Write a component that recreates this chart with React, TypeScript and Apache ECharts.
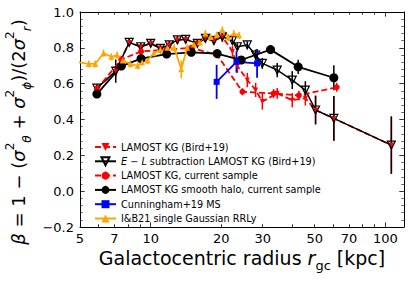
import React, { useEffect, useRef } from "react";
import * as echarts from "echarts";

// ---------- axis ticks ----------
const xMinorTicks = [5, 6, 7, 8, 9, 20, 30, 40, 50, 60, 70, 80, 90];
const xMajorTicks = [10, 100];
const xTickLabels = [5, 7, 10, 20, 30, 50, 70, 100];

// ---------- data ----------
// LAMOST KG (Bird+19)
const birdR = [5.9, 7.1, 8.1, 9.07, 10, 11, 12, 13, 14.1, 15.8, 17.1, 18.6, 20.2, 22.3, 23.4, 25.8, 28.0, 29.9, 34.6, 40.1, 45.6, 50.4, 60.3, 106];
const birdBeta = [0.575, 0.67, 0.83, 0.806, 0.825, 0.797, 0.816, 0.844, 0.847, 0.825, 0.853, 0.84, 0.862, 0.78, 0.7, 0.62, 0.565, 0.5, 0.546, 0.508, 0.518, 0.453, 0.406, 0.257];
const birdErr = [0.02, 0.03, 0.02, 0.02, 0.02, 0.02, 0.02, 0.02, 0.02, 0.02, 0.02, 0.02, 0.03, 0.03, 0.04, 0.04, 0.04, 0.045, 0.03, 0.04, 0.04, 0.08, 0.125, 0.16];

// E-L subtraction LAMOST KG (Bird+19)
const elR = [5.9, 7.1, 8.1, 9.07, 10, 11, 12, 13, 14.1, 15.8, 17.1, 18.6, 20.2, 22.3, 23.4, 25.8, 28.0, 29.9, 34.6, 40.1, 45.6, 50.4, 60.3, 106];
const elBeta = [0.575, 0.67, 0.83, 0.806, 0.825, 0.797, 0.816, 0.844, 0.847, 0.825, 0.853, 0.84, 0.862, 0.84, 0.806, 0.816, 0.76, 0.713, 0.676, 0.62, 0.564, 0.453, 0.406, 0.257];
const elErr = [0.02, 0.065, 0.02, 0.02, 0.02, 0.02, 0.02, 0.02, 0.02, 0.02, 0.02, 0.02, 0.02, 0.02, 0.02, 0.02, 0.03, 0.03, 0.04, 0.05, 0.05, 0.08, 0.125, 0.16];

// LAMOST KG, current sample
const curR = [5.9, 7.5, 9.1, 11.7, 14.9, 19.2, 24.6, 33.4, 42.8, 62.0];
const curBeta = [0.57, 0.735, 0.78, 0.79, 0.8, 0.76, 0.555, 0.545, 0.535, 0.58];
const curErr = [0.02, 0.02, 0.015, 0.015, 0.015, 0.02, 0.02, 0.025, 0.025, 0.025];

// LAMOST KG smooth halo, current sample
const halR = [5.9, 7.5, 9.1, 11.7, 14.9, 19.2, 24.3, 32.4, 42.5, 60.3];
const halBeta = [0.542, 0.698, 0.74, 0.765, 0.775, 0.768, 0.732, 0.79, 0.694, 0.633];
const halErr = [0.02, 0.02, 0.015, 0.012, 0.012, 0.015, 0.02, 0.025, 0.04, 0.07];

// Cunningham+19 MS
const cunR = [19.1, 23.2, 28.4];
const cunBeta = [0.61, 0.722, 0.713];
const cunErr = [0.095, 0.06, 0.08];

// I&B21 single Gaussian RRLy
const ibR = [4.9, 5.45, 5.8, 6.3, 6.8, 7.2, 7.6, 8.2, 8.8, 9.2, 9.7, 10.3, 11.0, 11.8, 12.6, 13.5, 14.3, 15.3, 16.2, 17.1, 18.0, 19.1, 20.2, 21.4, 22.6, 23.8];
const ibBeta = [0.72, 0.71, 0.71, 0.77, 0.75, 0.76, 0.73, 0.71, 0.7, 0.72, 0.73, 0.77, 0.79, 0.8, 0.8, 0.68, 0.8, 0.82, 0.83, 0.88, 0.86, 0.87, 0.9, 0.86, 0.88, 0.87];
const ibErr = [0.02, 0.02, 0.02, 0.02, 0.02, 0.02, 0.02, 0.02, 0.02, 0.02, 0.02, 0.02, 0.02, 0.02, 0.02, 0.05, 0.02, 0.02, 0.02, 0.02, 0.02, 0.02, 0.02, 0.02, 0.02, 0.02];

const NAMES = {
  bird: "LAMOST KG (Bird+19)",
  el: "E − L subtraction LAMOST KG (Bird+19)",
  cur: "LAMOST KG, current sample",
  hal: "LAMOST KG smooth halo, current sample",
  cun: "Cunningham+19 MS",
  ib: "I&B21 single Gaussian RRLy",
};

const FONT = "DejaVu Sans";
const RED = "#ff0000";
const BLUE = "#0000ff";
const ORANGE = "#ffa500";

function errSeries(key: string, r: number[], b: number[], e: number[], color: string, lw: number) {
  return {
    type: "custom",
    name: key + "_err",
    xAxisIndex: 0,
    yAxisIndex: 0,
    silent: true,
    clip: true,
    encode: { x: 0, y: [1, 2] },
    data: r.map((x, i) => [x, b[i] - e[i], b[i] + e[i]]),
    renderItem: (_params: any, api: any) => {
      const p1 = api.coord([api.value(0), api.value(1)]);
      const p2 = api.coord([api.value(0), api.value(2)]);
      return {
        type: "line",
        shape: { x1: p1[0], y1: p1[1], x2: p2[0], y2: p2[1] },
        style: { stroke: color, lineWidth: lw },
      };
    },
  };
}

function lineSeries(name: string, r: number[], b: number[], opts: any) {
  return {
    type: "line",
    name,
    xAxisIndex: 0,
    yAxisIndex: 0,
    data: r.map((x, i) => [x, b[i]]),
    clip: true,
    ...opts,
  };
}

const tickLine = { color: "#000", width: 0.8 };

function xAxisDef(position: string, ticks: number[], len: number, labels: boolean, line: boolean) {
  return {
    type: "log",
    logBase: 10,
    min: 5,
    max: 120,
    position,
    axisLine: { show: line, onZero: false, lineStyle: { color: "#000", width: 1 } },
    axisTick: { show: true, inside: true, length: len, lineStyle: tickLine, customValues: ticks },
    axisLabel: labels
      ? {
          show: true,
          customValues: xTickLabels,
          formatter: (v: number) => String(Math.round(v)),
          color: "#000",
          fontSize: 13,
          fontFamily: FONT,
          margin: 5,
        }
      : { show: false },
    splitLine: { show: false },
    minorTick: { show: false },
    minorSplitLine: { show: false },
  };
}

function yAxisDef(position: string, labels: boolean) {
  return {
    type: "value",
    min: -0.2,
    max: 1.0,
    interval: 0.2,
    position,
    axisLine: { show: true, onZero: false, lineStyle: { color: "#000", width: 1 } },
    axisTick: { show: true, inside: true, length: 4.7, lineStyle: tickLine },
    minorTick: { show: true, splitNumber: 5, length: 2.7, lineStyle: { color: "#000", width: 0.6 } },
    axisLabel: labels
      ? {
          show: true,
          formatter: (v: number) => (v < -1e-9 ? "−" : "") + Math.abs(v).toFixed(1),
          color: "#000",
          fontSize: 13,
          fontFamily: FONT,
          margin: 6,
        }
      : { show: false },
    splitLine: { show: false },
    minorSplitLine: { show: false },
  };
}

export default function App() {
  const ref = useRef<HTMLDivElement>(null);

  useEffect(() => {
    if (!ref.current) return;
    const chart = echarts.init(ref.current, undefined, { renderer: "svg" });

    const option: any = {
      animation: false,
      backgroundColor: "#fff",
      grid: { left: 80, right: 11, top: 12, bottom: 55 },
      xAxis: [
        xAxisDef("bottom", xMinorTicks, 2.7, true, true),
        xAxisDef("bottom", xMajorTicks, 4.7, false, false),
        xAxisDef("top", xMinorTicks, 2.7, false, true),
        xAxisDef("top", xMajorTicks, 4.7, false, false),
      ],
      yAxis: [yAxisDef("left", true), yAxisDef("right", false)],
      legend: {
        orient: "vertical",
        left: 89,
        top: 136,
        itemWidth: 21,
        itemHeight: 10,
        itemGap: 2.3,
        selectedMode: false,
        data: [NAMES.bird, NAMES.el, NAMES.cur, NAMES.hal, NAMES.cun, NAMES.ib],
        formatter: (n: string) =>
          n === NAMES.el ? "{i|E} − {i|L}{n| subtraction LAMOST KG (Bird+19)}" : n,
        textStyle: {
          color: "#000",
          fontSize: 9.7,
          fontFamily: FONT,
          lineHeight: 12,
          rich: {
            i: { fontStyle: "italic", fontSize: 9.7, fontFamily: FONT, color: "#000", lineHeight: 12 },
            n: { fontSize: 9.7, fontFamily: FONT, color: "#000", lineHeight: 12 },
          },
        },
      },
      series: [
        errSeries("bird", birdR, birdBeta, birdErr, RED, 1.5),
        lineSeries(NAMES.bird, birdR, birdBeta, {
          symbol: "triangle",
          symbolRotate: 180,
          symbolSize: 5,
          itemStyle: { color: RED },
          lineStyle: { color: RED, width: 1.8, type: [6, 3] },
        }),
        errSeries("el", elR, elBeta, elErr, "#000", 1.5),
        lineSeries(NAMES.el, elR, elBeta, {
          symbol: "triangle",
          symbolRotate: 180,
          symbolSize: 8,
          itemStyle: { color: "rgba(255,255,255,0)", borderColor: "#000", borderWidth: 1.2 },
          lineStyle: { color: "#000", width: 1.5 },
        }),
        errSeries("cur", curR, curBeta, curErr, RED, 1.5),
        lineSeries(NAMES.cur, curR, curBeta, {
          symbol: "circle",
          symbolSize: 6,
          itemStyle: { color: RED },
          lineStyle: { color: RED, width: 1.8, type: [6, 3] },
        }),
        errSeries("hal", halR, halBeta, halErr, "#000", 1.5),
        lineSeries(NAMES.hal, halR, halBeta, {
          symbol: "circle",
          symbolSize: 9,
          itemStyle: { color: "#000" },
          lineStyle: { color: "#000", width: 1.8 },
        }),
        errSeries("cun", cunR, cunBeta, cunErr, BLUE, 1.8),
        lineSeries(NAMES.cun, cunR, cunBeta, {
          symbol: "rect",
          symbolSize: 6,
          itemStyle: { color: BLUE },
          lineStyle: { color: BLUE, width: 1.8 },
        }),
        errSeries("ib", ibR, ibBeta, ibErr, ORANGE, 1.5),
        lineSeries(NAMES.ib, ibR, ibBeta, {
          symbol: "triangle",
          symbolSize: 6,
          itemStyle: { color: ORANGE },
          lineStyle: { color: ORANGE, width: 1.8 },
        }),
      ],
      graphic: [
        {
          type: "text",
          x: 18.5,
          y: 132,
          rotation: Math.PI / 2,
          style: {
            text:
              "{i|β}{n| = 1 − (}{i|σ}{sup|2}{sub|θ}{n| + }{i|σ}{sup|2}{sub|ϕ}{n|)/(2}{i|σ}{sup|2}{sub|r}{n|)}",
            align: "center",
            verticalAlign: "middle",
            fill: "#000",
            rich: {
              n: { fontSize: 18, fontFamily: FONT, lineHeight: 29, fill: "#000" },
              i: { fontSize: 18, fontFamily: FONT, fontStyle: "italic", lineHeight: 29, fill: "#000" },
              sup: { fontSize: 12, fontFamily: FONT, lineHeight: 16, verticalAlign: "top", fill: "#000" },
              sub: { fontSize: 12, fontFamily: FONT, fontStyle: "italic", lineHeight: 16, verticalAlign: "bottom", fill: "#000" },
            },
          },
        },
        {
          type: "text",
          x: 242,
          y: 258,
          style: {
            text: "{n|Galactocentric radius }{i|r}{sub|gc}{n| [kpc]}",
            align: "center",
            verticalAlign: "middle",
            fill: "#000",
            rich: {
              n: { fontSize: 19, fontFamily: FONT, lineHeight: 28, fill: "#000" },
              i: { fontSize: 19, fontFamily: FONT, fontStyle: "italic", lineHeight: 28, fill: "#000" },
              sub: { fontSize: 13, fontFamily: FONT, lineHeight: 17, verticalAlign: "bottom", fill: "#000" },
            },
          },
        },
      ],
    };

    chart.setOption(option);
    return () => chart.dispose();
  }, []);

  return (
    <div
      ref={ref}
      style={{ position: "fixed", left: 0, top: 0, width: 415, height: 282, background: "#fff" }}
    />
  );
}
